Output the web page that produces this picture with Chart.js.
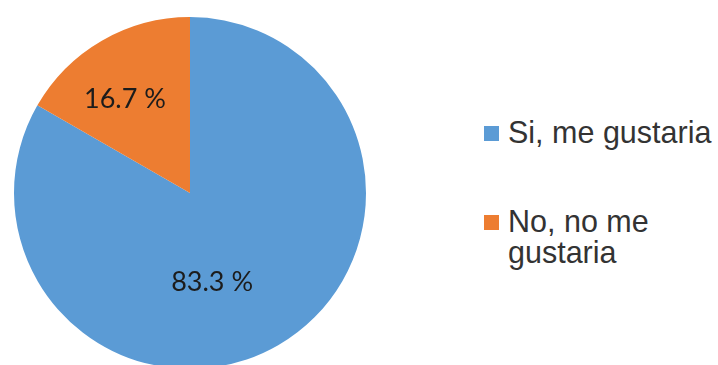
<!DOCTYPE html>
<html>
<head>
<meta charset="utf-8">
<script src="https://cdn.jsdelivr.net/npm/chart.js@4/dist/chart.umd.min.js"></script>
<style>
  html, body { margin: 0; padding: 0; background: #fff; overflow: hidden; }
  body { width: 718px; height: 365px; position: relative; }
  #pie-wrap { position: absolute; left: 0; top: 0; width: 380px; height: 388px; }
  .leg-item { position: absolute; left: 484px; width: 234px; font-family: "Liberation Sans", Arial, sans-serif; font-size: 30.5px; line-height: 31px; color: #333; }
  .leg-box { position: absolute; left: 0; top: 9px; width: 15px; height: 15px; }
  .leg-text { margin-left: 24px; width: 208px; }
</style>
</head>
<body>
<div id="pie-wrap"><canvas id="pie"></canvas></div>
<div id="legend"></div>
<script>
// data
const labels = ['Si, me gustaria', 'No, no me gustaria'];
const values = [83.3, 16.7];
const colors = ['#5B9BD5', '#ED7D31'];

// label nudges from the arc midpoint (px)
const labelNudge = [[-22, 22], [-21, -9]];

const sliceLabels = {
    id: 'sliceLabels',
    afterDatasetsDraw(chart) {
        const ctx = chart.ctx;
        const meta = chart.getDatasetMeta(0);
        ctx.save();
        ctx.font = '27px Lato, "Open Sans", sans-serif';
        ctx.fillStyle = '#1c1c1c';
        ctx.textAlign = 'center';
        ctx.textBaseline = 'alphabetic';
        meta.data.forEach(function(arc, i) {
            let p = arc.tooltipPosition();
            let v = chart.data.datasets[0].data[i];
            ctx.fillText(v.toFixed(1) + ' %', p.x + labelNudge[i][0], p.y + labelNudge[i][1]);
        });
        ctx.restore();
    }
};

new Chart(document.getElementById('pie'), {
    type: 'pie',
    data: {
        labels: labels,
        datasets: [{ data: values, backgroundColor: colors, borderWidth: 0 }]
    },
    options: {
        responsive: true,
        maintainAspectRatio: false,
        animation: false,
        layout: { padding: { left: 14, right: 14, top: 17, bottom: 19 } },
        plugins: { legend: { display: false }, tooltip: { enabled: false } }
    },
    plugins: [sliceLabels]
});

// html legend
let leg = document.getElementById('legend');
for (let i = 0; i < labels.length; i++) {
    let item = document.createElement('div');
    item.className = 'leg-item';
    item.style.top = (117 + i * 89) + 'px';
    item.innerHTML = '<div class="leg-box" style="background:' + colors[i] + '"></div><div class="leg-text">' + labels[i] + '</div>';
    leg.appendChild(item);
}
</script>
</body>
</html>
